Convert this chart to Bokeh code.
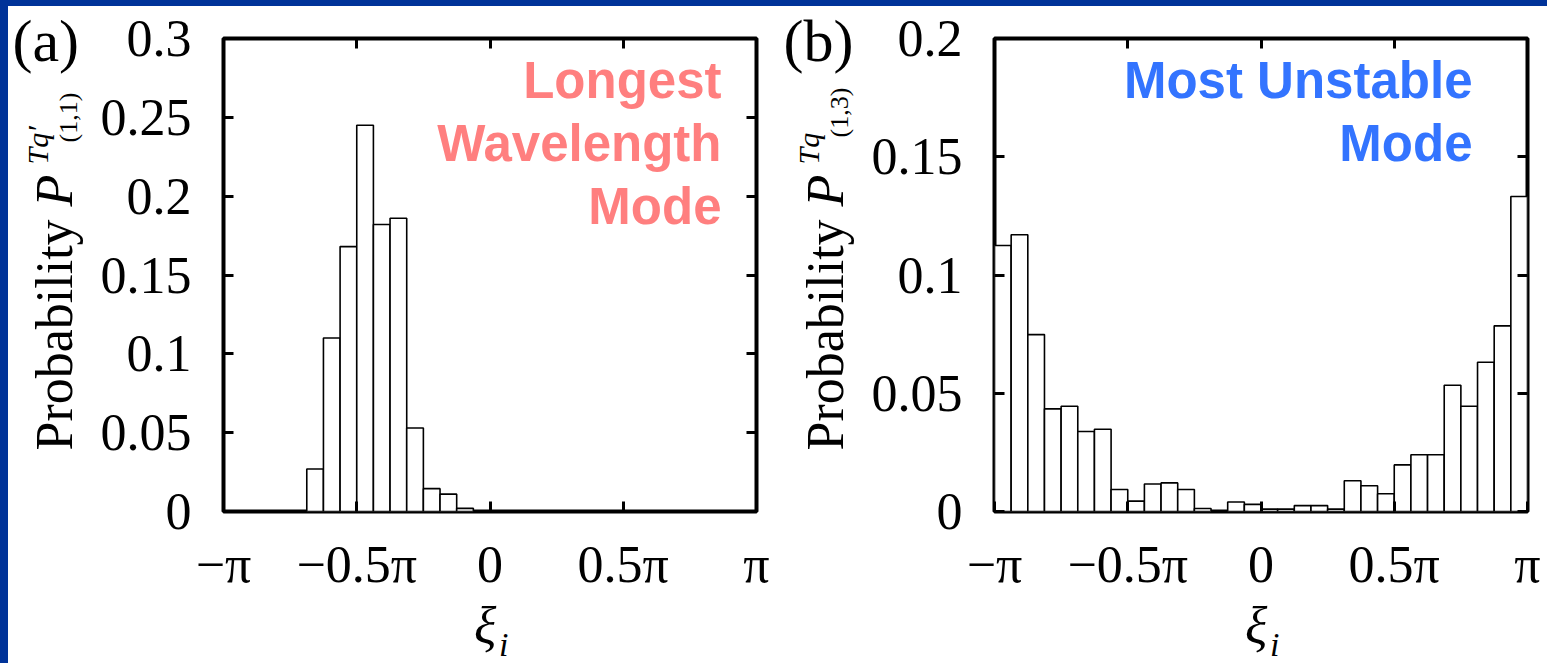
import numpy as np
from bokeh.plotting import figure
from bokeh.layouts import row
from bokeh.models import Range1d, LinearAxis, FixedTicker, Label
from bokeh.embed import file_html
from bokeh.resources import INLINE

# ---------------- data ----------------
n_bins = 32
bin_edges = np.linspace(-np.pi, np.pi, n_bins + 1)

# (a) Longest wavelength mode, probability per bin
prob_a = [0, 0, 0, 0, 0, 0.027, 0.110, 0.168, 0.245, 0.182, 0.186, 0.053,
          0.0145, 0.011, 0.002, 0, 0, 0, 0, 0, 0, 0, 0, 0, 0, 0, 0, 0, 0, 0, 0, 0]

# (b) Most unstable mode, probability per bin
prob_b = [0.1125, 0.117, 0.0748, 0.0434, 0.0445, 0.0338, 0.0348, 0.0093,
          0.0044, 0.0116, 0.0121, 0.0093, 0.0013, 0.0, 0.004, 0.003,
          0.001, 0.001, 0.0025, 0.0025, 0.001, 0.013, 0.0109, 0.0075,
          0.0197, 0.024, 0.024, 0.0534, 0.0445, 0.0631, 0.0785, 0.1332]

x_ticks = [-np.pi, -np.pi / 2, 0.0, np.pi / 2, np.pi]
x_tick_labels = ["\u2212\u03c0", "\u22120.5\u03c0", "0", "0.5\u03c0", "\u03c0"]

y_ticks_a = [0.0, 0.05, 0.1, 0.15, 0.2, 0.25, 0.3]
y_tick_labels_a = ["0", "0.05", "0.1", "0.15", "0.2", "0.25", "0.3"]
y_ticks_b = [0.0, 0.05, 0.1, 0.15, 0.2]
y_tick_labels_b = ["0", "0.05", "0.1", "0.15", "0.2"]

SERIF = "Liberation Serif"
SANS = "Liberation Sans"
BLUE_BG = "#003399"


def style_axis(ax, ticks, labels, show_labels=True):
    ax.ticker = FixedTicker(ticks=ticks)
    ax.major_label_overrides = {t: l for t, l in zip(ticks, labels)}
    ax.axis_line_color = None
    ax.major_tick_in = 10
    ax.major_tick_out = 0
    ax.major_tick_line_width = 3
    ax.major_tick_line_color = "black"
    ax.minor_tick_line_color = None
    ax.major_label_text_font = SERIF
    ax.major_label_text_color = "black"
    if show_labels:
        ax.major_label_text_font_size = "52px"
    else:
        ax.major_label_text_font_size = "0px"
        ax.major_label_standoff = 0


def side_label(p, text, dx, dy, size, x=-np.pi, italic=False, rot=0.0):
    p.add_layout(Label(x=x, y=0, x_offset=dx, y_offset=dy, text=text,
                       text_font=SERIF, text_font_size=size,
                       text_font_style="italic" if italic else "normal",
                       text_color="black", angle=rot,
                       text_align="left", text_baseline="alphabetic"), "below")


def make_panel(probs, y_max, y_ticks, y_labels, mb_left, mb_right,
               tag, sup, sub, sub_dy, notes, note_color, note_dx):
    p = figure(frame_width=533, frame_height=473,
               x_range=Range1d(-np.pi, np.pi), y_range=Range1d(0, y_max),
               output_backend="svg", toolbar_location=None,
               min_border_left=mb_left, min_border_right=mb_right,
               min_border_top=32, min_border_bottom=152)
    p.grid.visible = False
    p.background_fill_color = "white"
    p.border_fill_color = "white"
    p.outline_line_color = "black"
    p.outline_line_width = 4

    p.quad(left=bin_edges[:-1], right=bin_edges[1:], bottom=0, top=probs,
           fill_color="white", line_color="black", line_width=1.6)

    style_axis(p.xaxis[0], x_ticks, x_tick_labels)
    p.xaxis[0].major_label_standoff = 24
    style_axis(p.yaxis[0], y_ticks, y_labels)
    p.yaxis[0].major_label_standoff = 32

    top_ax = LinearAxis()
    style_axis(top_ax, x_ticks, x_tick_labels, show_labels=False)
    p.add_layout(top_ax, "above")
    right_ax = LinearAxis()
    style_axis(right_ax, y_ticks, y_labels, show_labels=False)
    p.add_layout(right_ax, "right")

    rot = np.pi / 2
    # panel tag
    side_label(p, tag, -211, 471, "60px")
    # y-axis label pieces (rotated)
    side_label(p, "Probability", -169, 61, "52px", rot=rot)
    side_label(p, "P", -169, 305, "52px", italic=True, rot=rot)
    side_label(p, sup, -186, 347, "30px", italic=True, rot=rot)
    side_label(p, sub, -155, sub_dy, "26px", rot=rot)
    # x-axis label xi_i
    side_label(p, "\u03be", -16, -114, "52px", x=0.0, italic=True)
    side_label(p, "i", 9, -133, "34px", x=0.0, italic=True)

    # annotation text
    for i, line in enumerate(notes):
        p.add_layout(Label(x=np.pi, y=y_max, x_offset=note_dx, y_offset=-42 - 63 * i,
                           text=line, text_font=SANS, text_font_size="51px",
                           text_font_style="bold", text_color=note_color,
                           text_align="right", text_baseline="alphabetic"))
    return p


pa = make_panel(prob_a, 0.3, y_ticks_a, y_tick_labels_a, 215, 18,
                "(a)", "Tq\u2032", "(1,1)", 369,
                ["Longest", "Wavelength", "Mode"], "#FF7F7F", -35)
pb = make_panel(prob_b, 0.2, y_ticks_b, y_tick_labels_b, 220, 20,
                "(b)", "Tq", "(1,3)", 374,
                ["Most Unstable", "Mode"], "#3374FF", -55)
pa.margin = (6, 0, 0, 8)
pb.margin = (6, 0, 0, 0)

layout = row(pa, pb,
             styles={"background-color": "white", "overflow": "hidden",
                     "max-height": "663px",
                     "box-shadow": "inset 8px 6px 0 0 " + BLUE_BG})

open("out.html", "w").write(file_html(layout, INLINE))
